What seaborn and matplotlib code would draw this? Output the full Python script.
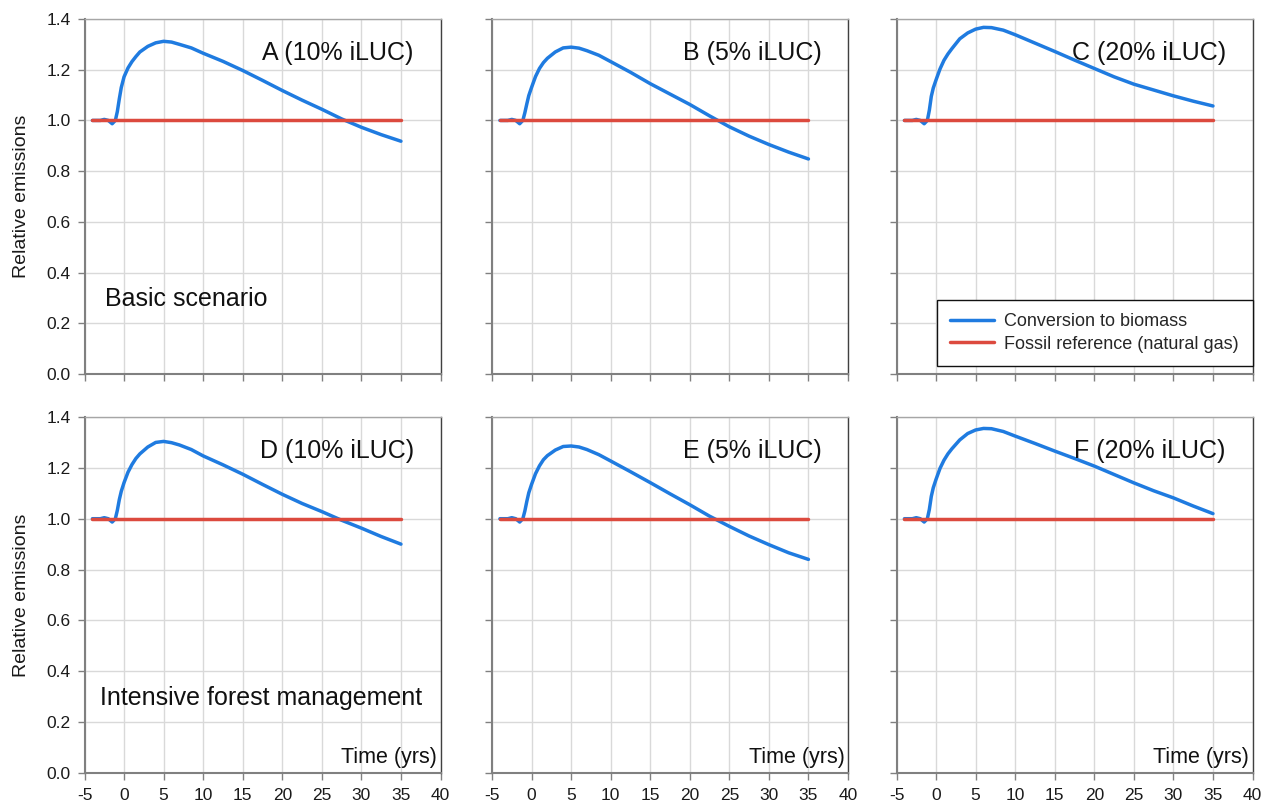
import matplotlib
matplotlib.use("Agg")
import matplotlib.pyplot as plt
from matplotlib.lines import Line2D
import pandas as pd
import seaborn as sns

# Time axis (years) shared by all six scenarios
years = [-4, -3, -2.5, -2, -1.5, -1.1, -0.85, -0.6, -0.35, 0, 0.5, 1, 1.5, 2, 3, 4, 5, 6, 7,
         8.5, 10, 12.5, 15, 17.5, 20, 22.5, 25, 27.5, 30, 32.5, 35]

# Relative emissions after conversion to biomass
emis_a = [1.0, 1.0, 1.004, 1.0, 0.987, 1.0, 1.035, 1.085, 1.130, 1.172, 1.207, 1.232, 1.252,
          1.270, 1.292, 1.306, 1.312, 1.309, 1.300, 1.286, 1.265, 1.233, 1.197, 1.158,
          1.118, 1.080, 1.044, 1.006, 0.973, 0.944, 0.918]
emis_b = [1.0, 1.0, 1.004, 1.0, 0.987, 1.0, 1.030, 1.065, 1.098, 1.130, 1.173, 1.205, 1.228,
          1.245, 1.270, 1.286, 1.289, 1.285, 1.275, 1.257, 1.232, 1.190, 1.145, 1.104,
          1.063, 1.018, 0.975, 0.938, 0.905, 0.875, 0.848]
emis_c = [1.0, 1.0, 1.004, 1.0, 0.987, 1.0, 1.040, 1.095, 1.128, 1.160, 1.203, 1.237, 1.262,
          1.283, 1.322, 1.345, 1.360, 1.367, 1.366, 1.356, 1.338, 1.305, 1.272, 1.238,
          1.205, 1.172, 1.143, 1.120, 1.097, 1.076, 1.057]
emis_d = [1.0, 1.0, 1.004, 1.0, 0.987, 1.0, 1.033, 1.075, 1.108, 1.142, 1.183, 1.213, 1.237,
          1.255, 1.282, 1.300, 1.304, 1.299, 1.290, 1.272, 1.247, 1.212, 1.175, 1.135,
          1.096, 1.060, 1.028, 0.994, 0.963, 0.930, 0.900]
emis_e = [1.0, 1.0, 1.004, 1.0, 0.987, 1.0, 1.030, 1.068, 1.102, 1.135, 1.177, 1.208, 1.232,
          1.248, 1.270, 1.284, 1.286, 1.282, 1.272, 1.252, 1.227, 1.185, 1.142, 1.098,
          1.055, 1.010, 0.970, 0.932, 0.898, 0.866, 0.840]
emis_f = [1.0, 1.0, 1.004, 1.0, 0.987, 1.0, 1.036, 1.088, 1.122, 1.155, 1.198, 1.230, 1.255,
          1.275, 1.310, 1.335, 1.349, 1.355, 1.354, 1.343, 1.325, 1.296, 1.266, 1.237,
          1.207, 1.174, 1.141, 1.110, 1.082, 1.050, 1.020]

# Fossil reference (natural gas) is the baseline
fossil_level = 1.0

panel_titles = ["A (10% iLUC)", "B (5% iLUC)", "C (20% iLUC)",
                "D (10% iLUC)", "E (5% iLUC)", "F (20% iLUC)"]
row_labels = ["Basic scenario", "Intensive forest management"]
series_names = ["Conversion to biomass", "Fossil reference (natural gas)"]
x_ticks = [-5, 0, 5, 10, 15, 20, 25, 30, 35, 40]
y_ticks = [0.0, 0.2, 0.4, 0.6, 0.8, 1.0, 1.2, 1.4]

all_emis = [emis_a, emis_b, emis_c, emis_d, emis_e, emis_f]

records = []
for p, (title, vals) in enumerate(zip(panel_titles, all_emis)):
    for t, v in zip(years, vals):
        records.append({"panel": p, "year": t, "value": v, "series": series_names[0]})
    for t in years:
        records.append({"panel": p, "year": t, "value": fossil_level, "series": series_names[1]})
df = pd.DataFrame(records)

sns.set_theme(style="white")
plt.rcParams["font.family"] = ["Liberation Sans", "DejaVu Sans"]

palette = {series_names[0]: "#1f7be0", series_names[1]: "#dc4a3e"}

W, H = 1269, 806
fig = plt.figure(figsize=(W / 100, H / 100), dpi=100)

col_left = [84.5, 492.0, 896.5]
row_top = [19.0, 417.0]
row_bot = [374.0, 773.0]
ax_w = 356.0

axes = []
for r in range(2):
    for c in range(3):
        rect = [col_left[c] / W, 1 - row_bot[r] / H, ax_w / W, (row_bot[r] - row_top[r]) / H]
        axes.append(fig.add_axes(rect))

for p, ax in enumerate(axes):
    r, c = divmod(p, 3)
    sub = df[df["panel"] == p]
    sns.lineplot(data=sub, x="year", y="value", hue="series", hue_order=series_names,
                 palette=palette, linewidth=2.5, estimator=None, sort=False,
                 legend=False, ax=ax)
    ax.set_xlim(-5, 40)
    ax.set_ylim(0, 1.4)
    ax.set_xticks(x_ticks)
    ax.set_yticks(y_ticks)
    ax.set_xticklabels([str(v) for v in x_ticks] if r == 1 else [])
    ax.set_yticklabels([f"{v:.1f}" for v in y_ticks] if c == 0 else [])
    ax.grid(True, color="#d9d9d9", linewidth=1.0)
    ax.set_axisbelow(True)
    ax.tick_params(axis="both", which="major", direction="out", length=5, width=1,
                   color="#808080", labelsize=12.5, labelcolor="#1a1a1a",
                   bottom=True, left=True)
    ax.tick_params(axis="x", pad=6)
    ax.tick_params(axis="y", pad=5)
    for side in ("left", "bottom"):
        ax.spines[side].set_color("#808080")
        ax.spines[side].set_linewidth(1.5)
    ax.spines["right"].set_color("#404040")
    ax.spines["right"].set_linewidth(1.0)
    ax.spines["top"].set_color("#a6a6a6")
    ax.spines["top"].set_linewidth(1.0)
    ax.set_xlabel("")
    if c == 0:
        ax.set_ylabel("Relative emissions", fontsize=14, color="#1a1a1a")
        ax.yaxis.set_label_coords(-0.152, 0.5)
    else:
        ax.set_ylabel("")

    ax.text(0.925, 0.905, panel_titles[p], transform=ax.transAxes, ha="right",
            va="center", fontsize=18, color="#111111")
    if r == 1:
        ax.text(0.99, 0.043, "Time (yrs)", transform=ax.transAxes, ha="right",
                va="center", fontsize=15.5, color="#111111")
    if c == 0:
        ax.text(0.058 if r == 0 else 0.044, 0.21, row_labels[r], transform=ax.transAxes,
                ha="left", va="center", fontsize=18, color="#111111")

# Legend in the top-right panel
handles = [Line2D([0], [0], color=palette[s], linewidth=2.5) for s in series_names]
leg = axes[2].legend(handles, series_names, loc="lower right",
                     bbox_to_anchor=(1.0, 0.022), borderaxespad=0, fontsize=13,
                     frameon=True, fancybox=False, framealpha=1, handlelength=2.4,
                     handletextpad=0.6, borderpad=0.75, labelspacing=0.3)
leg.get_frame().set_edgecolor("#111111")
leg.get_frame().set_linewidth(1.0)

fig.savefig("out.png", dpi=100)
